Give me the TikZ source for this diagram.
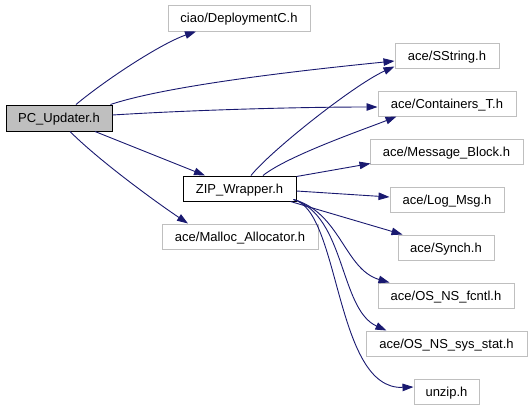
\documentclass[tikz,border=0pt]{standalone}
\usepackage{fontspec}
\setmainfont{Liberation Sans}
\usetikzlibrary{arrows.meta,calc}
\definecolor{edgeblue}{RGB}{25,25,112}
\definecolor{boxgray}{RGB}{191,191,191}
\definecolor{pcfill}{RGB}{191,191,191}
\begin{document}
\begin{tikzpicture}[x=1pt,y=-1pt,
  file/.style={draw=boxgray, line width=1pt, fill=white, inner sep=0pt,
    minimum height=25pt, font=\fontsize{13}{15}\selectfont,
    text height=9.5pt, text depth=0pt},
  mainfile/.style={file, draw=black, fill=pcfill, minimum height=26pt},
  wrapfile/.style={file, draw=black},
  dep/.style={draw=edgeblue, line width=0.9pt,
    -{Triangle[length=11pt,width=7.5pt]}}]
\useasboundingbox (0,0) rectangle (531,408);
% nodes
\node[mainfile, minimum width=106pt] (pc) at (59,118) {PC\_Updater.h};
\node[file, minimum width=142pt, minimum height=26pt] (ciao) at (239,18) {ciao/DeploymentC.h};
\node[file, minimum width=104pt] (sstring) at (447,55.5) {ace/SString.h};
\node[file, minimum width=138pt] (cont) at (447,103.5) {ace/Containers\_T.h};
\node[wrapfile, minimum width=113pt] (zip) at (239.5,188.5) {ZIP\_Wrapper.h};
\node[file, minimum width=156pt] (malloc) at (240,236.5) {ace/Malloc\_Allocator.h};
\node[file, minimum width=153pt] (msg) at (446.5,151.5) {ace/Message\_Block.h};
\node[file, minimum width=114pt] (log) at (447,199.5) {ace/Log\_Msg.h};
\node[file, minimum width=96pt] (synch) at (446,247.5) {ace/Synch.h};
\node[file, minimum width=136pt] (fcntl) at (446,295.5) {ace/OS\_NS\_fcntl.h};
\node[file, minimum width=161pt] (stat) at (446.5,343.5) {ace/OS\_NS\_sys\_stat.h};
\node[file, minimum width=65pt] (unzip) at (446.5,391.5) {unzip.h};
% edges from PC_Updater.h
\draw[dep] ($(pc.north)+(17,0)$) .. controls +(30,-25) and +(-35,12) .. ($(ciao.south)+(-43,0)$);
\draw[dep] ($(pc.north east)+(-2,0)$) .. controls +(60,-20) and +(-80,8) .. ($(sstring.west)+(0,5.5)$);
\draw[dep] ($(pc.east)+(0,-3)$) .. controls +(80,-5) and +(-80,0) .. ($(cont.west)+(0,3.5)$);
\draw[dep] ($(pc.south)+(36,0)$) -- ($(zip.north)+(-34.5,0)$);
\draw[dep] ($(pc.south)+(11,0)$) .. controls +(30,30) and +(-30,-20) .. ($(malloc.north)+(-52,0)$);
% edges from ZIP_Wrapper.h
\draw[dep] ($(zip.north)+(11.5,0)$) .. controls +(20,-25) and +(-40,18) .. ($(sstring.south west)+(0,-2)$);
\draw[dep] ($(zip.north)+(23.5,0)$) .. controls +(25,-20) and +(-30,12) .. ($(cont.south west)+(19,0)$);
\draw[dep] ($(zip.north east)+(0,1)$) -- ($(msg.south west)+(1,-1)$);
\draw[dep] ($(zip.east)+(0,2.5)$) -- ($(log.west)+(0,-2.5)$);
\draw[dep] ($(zip.south east)+(-6,0)$) -- ($(synch.north west)+(5,0)$);
\draw[dep] ($(zip.south east)+(-3,-2)$) .. controls +(47,13) and +(-45,-13) .. ($(fcntl.north west)+(12,0)$);
\draw[dep] ($(zip.south east)+(-3,-2)$) .. controls +(52,16) and +(-47,-21) .. ($(stat.north west)+(21,0)$);
\draw[dep] ($(zip.south east)+(-3,-2)$) .. controls +(47,11) and +(-79,3) .. ($(unzip.west)+(0,-4.5)$);
\end{tikzpicture}
\end{document}
